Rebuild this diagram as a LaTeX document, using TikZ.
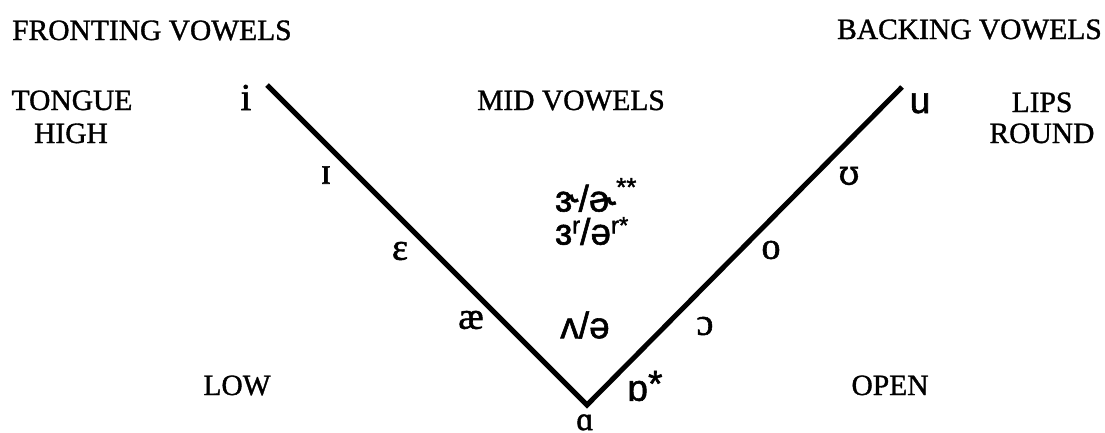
\documentclass[tikz,border=0pt]{standalone}
\usepackage{fontspec}
\setmainfont[FakeBold=1.2]{Liberation Serif}
\newfontfamily\ipasans[FakeBold=1.5]{Liberation Sans}
\newfontfamily\ipaserif[FakeBold=1.5]{Liberation Serif}
\newfontfamily\ipadv[FakeBold=1.2]{DejaVu Serif}
\begin{document}
\begin{tikzpicture}[x=1pt,y=-1pt,
  captxt/.style={inner sep=0pt,font=\fontsize{29.5}{31}\selectfont},
  vow/.style={inner sep=0pt,font=\fontsize{38}{40}\ipaserif},
  vows/.style={inner sep=0pt,font=\fontsize{37}{39}\ipasans},
  chart/.style={line width=5pt,line join=miter}]
\useasboundingbox (0,0) rectangle (1105,432);
% headings
\node[captxt,anchor=base west] (front) at (12,40) {FRONTING VOWELS};
\node[captxt,anchor=base east] (back) at (1102,39) {BACKING VOWELS};
\node[captxt,anchor=base] (tongue) at (72,110) {TONGUE};
\node[captxt,anchor=base] (high) at (71,143) {HIGH};
\node[captxt,anchor=base] (mid) at (571,110) {MID VOWELS};
\node[captxt,anchor=base] (lips) at (1042,112) {LIPS};
\node[captxt,anchor=base] (round) at (1042,143) {ROUND};
\node[captxt,anchor=base] (low) at (237,395) {LOW};
\node[captxt,anchor=base] (open) at (890,395) {OPEN};
% chart lines
\coordinate (ti) at (267,85);
\coordinate (bot) at (587,405);
\coordinate (tu) at (902,87);
\draw[chart] (ti) -- (bot) -- (tu);
% vowels
\node[vow,anchor=base] (vi) at (246,110) {i};
\node[vows,anchor=base] (vu) at (920,113) {u};
\node[inner sep=0pt,font=\fontsize{33}{35}\ipaserif,anchor=base] (va) at (585,430) {ɑ};
\node[vow] (vI) at (326,175) {ɪ};
\node[vow] (vE) at (400,251) {ɛ};
\node[vow] (vae) at (471,320) {æ};
\node[vows] (vuh) at (585,325) {ʌ/ə};
\node[vows,anchor=west] (vrr) at (555,195) {ɝ/ɚ\raisebox{0.42em}{\fontsize{26}{26}\selectfont**}};
\node[vows,anchor=west] (vrc) at (555,231) {ɜ\raisebox{0.3em}{\fontsize{24}{24}\selectfont r}/ə\raisebox{0.3em}{\fontsize{24}{24}\selectfont r*}};
\node[vows] (vO) at (645,386) {ɒ\raisebox{0.12em}{*}};
\node[vow] (vc) at (705,326) {ɔ};
\node[vow] (vo) at (771,250) {o};
\node[inner sep=0pt,font=\fontsize{34}{36}\ipadv] (vU) at (849,176) {ʊ};
\end{tikzpicture}
\end{document}
